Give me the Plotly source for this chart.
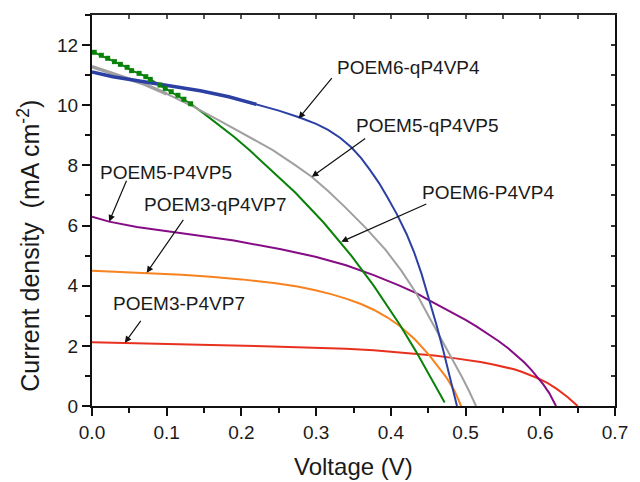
import plotly.graph_objects as go

# ---- data ----
p6q_v = [0.0, 0.028, 0.055, 0.076, 0.10, 0.124, 0.145, 0.183, 0.22, 0.25, 0.277, 0.30, 0.316, 0.332, 0.347, 0.36, 0.372, 0.384, 0.395, 0.408, 0.421, 0.431, 0.441, 0.451, 0.461, 0.470, 0.479, 0.4885]
p6q_j = [11.11, 10.95, 10.84, 10.76, 10.67, 10.56, 10.48, 10.28, 10.03, 9.82, 9.6, 9.38, 9.18, 8.92, 8.6, 8.25, 7.85, 7.42, 6.96, 6.38, 5.72, 5.12, 4.40, 3.58, 2.70, 1.86, 0.92, 0.0]

p5q_v = [0.0, 0.02, 0.045, 0.07, 0.10, 0.132, 0.17, 0.21, 0.242, 0.272, 0.294, 0.316, 0.338, 0.366, 0.393, 0.414, 0.434, 0.451, 0.467, 0.482, 0.495, 0.505, 0.514]
p5q_j = [11.28, 11.12, 10.92, 10.7, 10.38, 10.0, 9.5, 8.95, 8.51, 8.01, 7.62, 7.15, 6.63, 5.93, 5.19, 4.5, 3.75, 2.97, 2.25, 1.58, 0.97, 0.48, 0.0]

p6_v = [0.003, 0.0125, 0.021, 0.030, 0.038, 0.047, 0.053, 0.063, 0.072, 0.078, 0.091, 0.098, 0.106, 0.115, 0.123, 0.132, 0.15, 0.17, 0.19, 0.211, 0.24, 0.272, 0.31, 0.347, 0.377, 0.395, 0.412, 0.434, 0.456, 0.472]
p6_j = [11.76, 11.66, 11.56, 11.45, 11.36, 11.26, 11.15, 11.06, 10.95, 10.86, 10.67, 10.56, 10.45, 10.33, 10.2, 10.05, 9.72, 9.35, 8.95, 8.5, 7.85, 7.1, 6.1, 5.0, 4.0, 3.35, 2.7, 1.8, 0.85, 0.12]

p5_v = [0.0, 0.023, 0.06, 0.121, 0.19, 0.253, 0.299, 0.34, 0.377, 0.41, 0.434, 0.452, 0.475, 0.5, 0.515, 0.53, 0.544, 0.557, 0.568, 0.578, 0.588, 0.596, 0.604, 0.612, 0.621]
p5_j = [6.29, 6.13, 5.95, 5.74, 5.5, 5.21, 4.96, 4.68, 4.35, 4.02, 3.75, 3.5, 3.2, 2.86, 2.64, 2.4, 2.16, 1.92, 1.69, 1.46, 1.2, 0.97, 0.72, 0.43, 0.0]

p3q_v = [0.0, 0.071, 0.12, 0.159, 0.2, 0.246, 0.275, 0.299, 0.32, 0.34, 0.36, 0.377, 0.395, 0.412, 0.432, 0.451, 0.4735, 0.485, 0.494]
p3q_j = [4.50, 4.43, 4.36, 4.30, 4.21, 4.08, 3.97, 3.85, 3.72, 3.57, 3.39, 3.2, 2.95, 2.66, 2.22, 1.70, 0.98, 0.52, 0.0]

p3_v = [0.0, 0.044, 0.1, 0.159, 0.23, 0.299, 0.34, 0.377, 0.41, 0.434, 0.458, 0.482, 0.505, 0.52, 0.537, 0.552, 0.565, 0.575, 0.586, 0.596, 0.61, 0.622, 0.636, 0.650]
p3_j = [2.12, 2.10, 2.07, 2.03, 1.99, 1.94, 1.90, 1.85, 1.79, 1.74, 1.68, 1.60, 1.52, 1.46, 1.38, 1.30, 1.22, 1.14, 1.04, 0.93, 0.76, 0.57, 0.31, 0.0]

x_ticks = [0.0, 0.1, 0.2, 0.3, 0.4, 0.5, 0.6, 0.7]
y_ticks = [0, 2, 4, 6, 8, 10, 12]

FONT = "Liberation Sans, Arial, sans-serif"
TXT = "#1a1a1a"

fig = go.Figure()

def curve(v, j, color, width=2):
    fig.add_trace(go.Scatter(x=v, y=j, mode="lines",
                             line=dict(color=color, width=width, shape="linear"),
                             showlegend=False, hoverinfo="skip"))

def marks(v, j, color, size=5):
    fig.add_trace(go.Scatter(x=v, y=j, mode="markers", showlegend=False, hoverinfo="skip",
                             marker=dict(color=color, size=size, symbol="square", line=dict(width=0))))

C_RED, C_ORA, C_PUR, C_GRN, C_GRY, C_BLU = "#e8301e", "#f7821e", "#860c86", "#0a820a", "#a0a0a0", "#2c40a4"

curve(p3_v, p3_j, C_RED)
curve(p3q_v, p3q_j, C_ORA)
curve(p5_v, p5_j, C_PUR)
curve(p6_v, p6_j, C_GRN)
curve(p5q_v, p5q_j, C_GRY)
curve(p5q_v[:5], p5q_j[:5], C_GRY, 3.5)
curve(p6q_v, p6q_j, C_BLU)
curve(p6q_v[:9], p6q_j[:9], C_BLU, 3.5)
marks(p6_v[:16], p6_j[:16], C_GRN, 5)

labels = [
    ("POEM6-qP4VP4", 0.325, 11.24, 0.3226, 10.95, 0.2766, 9.56),
    ("POEM5-qP4VP5", 0.350, 9.34, 0.3677, 8.93, 0.2942, 7.62),
    ("POEM6-P4VP4", 0.4386, 7.09, 0.4495, 6.74, 0.3336, 5.46),
    ("POEM5-P4VP5", 0.0076, 7.76, 0.047, 7.54, 0.023, 6.13),
    ("POEM3-qP4VP7", 0.0667, 6.71, 0.1236, 6.24, 0.0732, 4.43),
    ("POEM3-P4VP7", 0.0252, 3.41, 0.0667, 2.88, 0.044, 2.10),
]
ann = []
for t, tx, ty, ax, ay, hx, hy in labels:
    ann.append(dict(text=t, x=tx, y=ty, xref="x", yref="y", xanchor="left", yanchor="middle",
                    showarrow=False, font=dict(size=19, color=TXT, family=FONT)))
    ann.append(dict(text="", x=hx, y=hy, ax=ax, ay=ay, xref="x", yref="y", axref="x", ayref="y",
                    showarrow=True, arrowhead=2, arrowsize=1.1, arrowwidth=1.2, arrowcolor="#111"))

ann.append(dict(text="Current density  (mA cm<sup>-2</sup>)", x=-0.121, y=0.409, xref="paper", yref="paper",
                textangle=-90, showarrow=False, xanchor="center", yanchor="middle",
                font=dict(size=25, color=TXT, family=FONT)))
ann.append(dict(text="Voltage (V)", x=0.5, y=-0.156, xref="paper", yref="paper",
                showarrow=False, xanchor="center", yanchor="middle",
                font=dict(size=24, color=TXT, family=FONT)))

fig.update_layout(
    width=640, height=482,
    margin=dict(l=92, r=14, t=15, b=76),
    paper_bgcolor="white", plot_bgcolor="white",
    font=dict(family=FONT, color=TXT),
    annotations=ann,
    xaxis=dict(range=[0, 0.7], tickvals=x_ticks, ticktext=[f"{v:.1f}" for v in x_ticks],
               ticks="outside", ticklen=8, tickwidth=2, tickcolor="#111",
               minor=dict(dtick=0.05, ticks="outside", ticklen=5, tickwidth=2, tickcolor="#111"),
               showline=True, linecolor="#111", linewidth=2, showgrid=False, zeroline=False,
               tickfont=dict(size=19, color=TXT, family=FONT)),
    yaxis=dict(range=[0, 13], tickvals=y_ticks,
               ticks="outside", ticklen=8, tickwidth=2, tickcolor="#111",
               minor=dict(dtick=1, ticks="outside", ticklen=5, tickwidth=2, tickcolor="#111"),
               showline=True, linecolor="#111", linewidth=2, showgrid=False, zeroline=False,
               tickfont=dict(size=19, color=TXT, family=FONT)),
    xaxis2=dict(range=[0, 0.7], overlaying="x", side="top", dtick=0.05, ticks="inside", ticklen=4,
                tickwidth=1.5, tickcolor="#555", showticklabels=False, showline=True,
                linecolor="#222", linewidth=2, showgrid=False, zeroline=False),
    yaxis2=dict(range=[0, 13], overlaying="y", side="right", dtick=1, ticks="inside", ticklen=4,
                tickwidth=1.5, tickcolor="#333", showticklabels=False, showline=True,
                linecolor="#111", linewidth=2, showgrid=False, zeroline=False),
)
# invisible trace to activate secondary axes
fig.add_trace(go.Scatter(x=[0.7], y=[13], xaxis="x2", yaxis="y2", mode="markers",
                         marker=dict(opacity=0), showlegend=False, hoverinfo="skip"))

fig.write_html("out.html")
